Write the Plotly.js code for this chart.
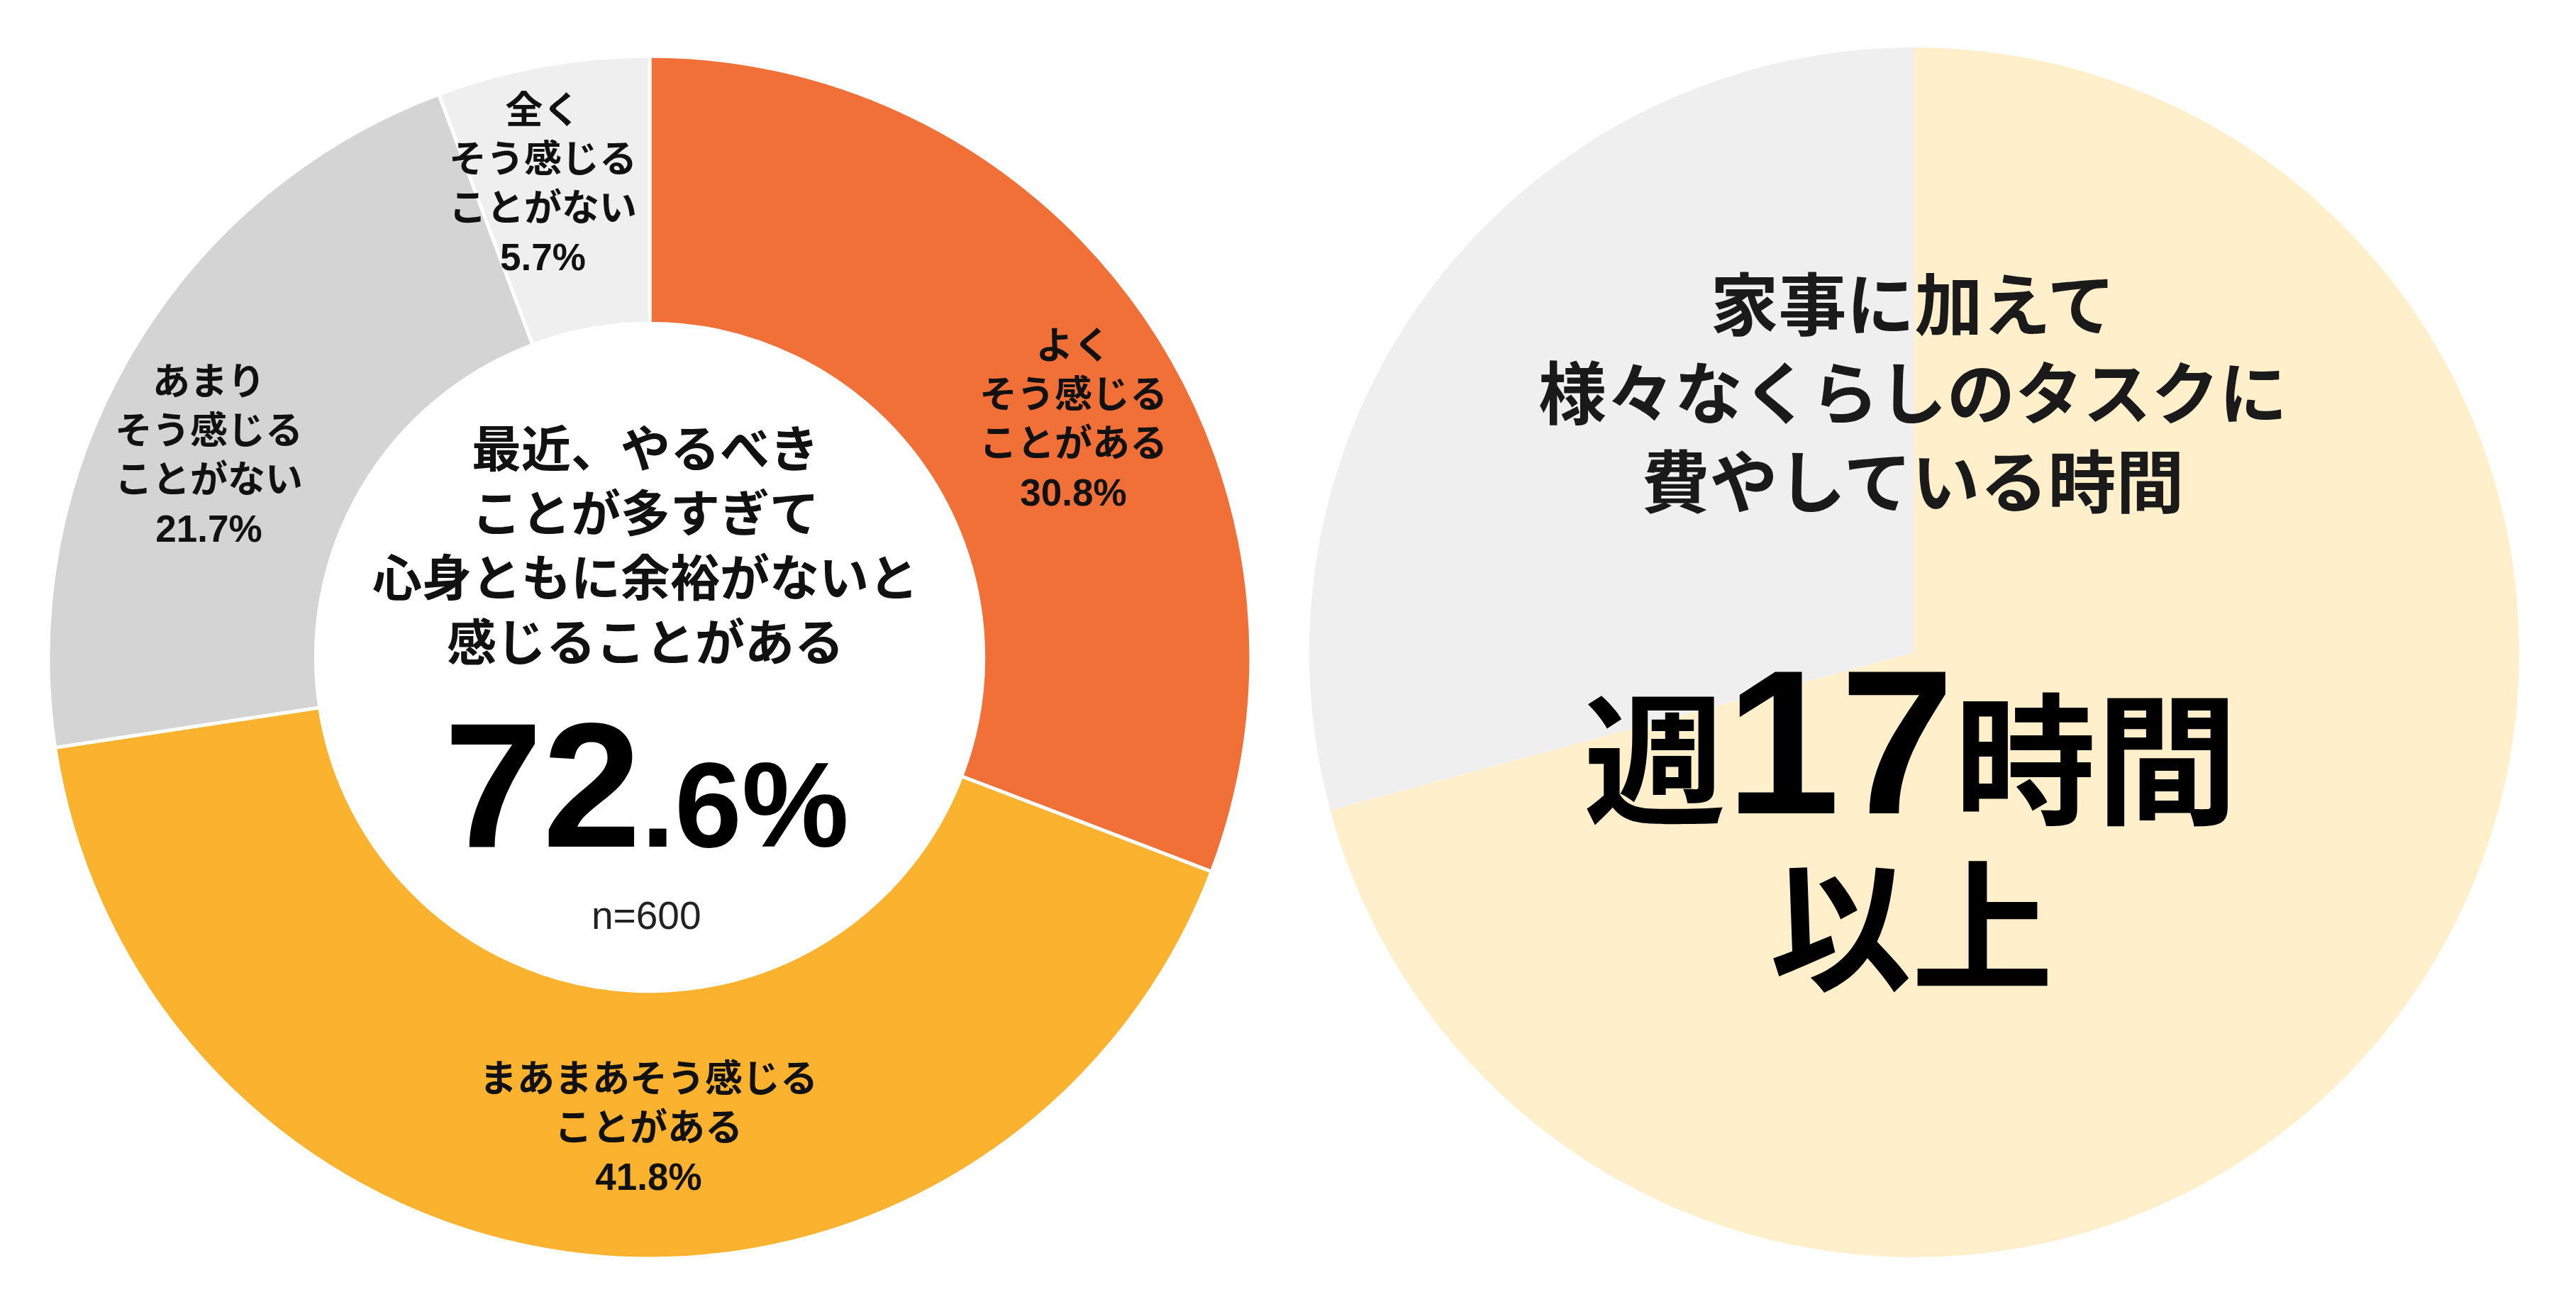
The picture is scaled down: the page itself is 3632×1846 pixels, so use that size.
<!DOCTYPE html>
<html>
<head>
<meta charset="utf-8">
<script src="https://cdn.plot.ly/plotly-3.0.1.min.js"></script>
<style>
  html, body { margin: 0; padding: 0; background: #fff; }
  #chart { width: 3632px; height: 1846px; }
</style>
</head>
<body>
<div id="chart"></div>
<script>
// left donut: 最近、やるべきことが多すぎて心身ともに余裕がないと感じることがある (n=600)
const answerLabels = [
  'よく<br>そう感じる<br>ことがある',
  'まあまあそう感じる<br>ことがある',
  'あまり<br>そう感じる<br>ことがない',
  '全く<br>そう感じる<br>ことがない'
];
const answerValues = [30.8, 41.8, 21.7, 5.7];
const sampleSize = 600;

// right pie: 家事に加えて様々なくらしのタスクに費やしている時間
const timeLabels = ['週17時間以上', 'それ未満'];
const timeValues = [70.8, 29.2];

const W = 3632, H = 1846;
const px = x => x / W;
const py = y => 1 - y / H;

const JP = 'Liberation Sans, Arial, Noto Sans CJK JP, sans-serif';
const answerColors = ['#F07038', '#FBB32F', '#D4D4D4', '#EFEFEF'];
const timeColors = ['#FFEFCB', '#EFEFEF'];
// label centres (px) for each answer slice
const labelPos = [[1513, 591], [914, 1590], [294, 642], [765, 259]];

const donut = {
  type: 'pie',
  labels: answerLabels,
  values: answerValues,
  sort: false,
  direction: 'clockwise',
  rotation: 0,
  hole: 0.555,
  textinfo: 'none',
  hoverinfo: 'skip',
  marker: { colors: answerColors, line: { color: '#ffffff', width: 5 } },
  domain: { x: [px(916 - 848), px(916 + 848)], y: [py(927 + 848), py(927 - 848)] }
};

const pie = {
  type: 'pie',
  labels: timeLabels,
  values: timeValues,
  sort: false,
  direction: 'clockwise',
  rotation: 0,
  textinfo: 'none',
  hoverinfo: 'skip',
  marker: { colors: timeColors, line: { width: 0 } },
  domain: { x: [px(2699 - 853), px(2699 + 853)], y: [py(920 + 853), py(920 - 853)] }
};

const annotations = answerLabels.map((lab, i) => ({
  text: '<b>' + lab + '<br>' + answerValues[i].toFixed(1) + '%</b>',
  x: px(labelPos[i][0]), y: py(labelPos[i][1]),
  xref: 'paper', yref: 'paper', xanchor: 'center', yanchor: 'middle',
  showarrow: false, align: 'center',
  font: { family: JP, size: 53, color: '#111111' }
}));

const total = (answerValues[0] + answerValues[1]).toFixed(1).split('.');

annotations.push(
  {
    text: '<b>最近、やるべき<br>ことが多すぎて<br>心身ともに余裕がないと<br>感じることがある</b>',
    x: px(910), y: py(771), xref: 'paper', yref: 'paper',
    xanchor: 'center', yanchor: 'middle', showarrow: false, align: 'center',
    font: { family: JP, size: 70, color: '#111111' }
  },
  {
    text: '<b>' + total[0] + '<span style="font-size:170px">.' + total[1] + '%</span></b>',
    x: px(911), y: py(1107), xref: 'paper', yref: 'paper',
    xanchor: 'center', yanchor: 'middle', showarrow: false,
    font: { family: 'Liberation Sans, Arial, sans-serif', size: 250, color: '#000000' }
  },
  {
    text: 'n=' + sampleSize,
    x: px(911), y: py(1291), xref: 'paper', yref: 'paper',
    xanchor: 'center', yanchor: 'middle', showarrow: false,
    font: { family: 'Liberation Sans, Arial, sans-serif', size: 55, color: '#222222' }
  },
  {
    text: '<b>家事に加えて<br>様々なくらしのタスクに<br>費やしている時間</b>',
    x: px(2697), y: py(556), xref: 'paper', yref: 'paper',
    xanchor: 'center', yanchor: 'middle', showarrow: false, align: 'center',
    font: { family: JP, size: 96, color: '#1a1a1a' }
  },
  {
    text: '<b>週<span style="font-size:290px">17</span>時間</b>',
    x: px(2694), y: py(1046), xref: 'paper', yref: 'paper',
    xanchor: 'center', yanchor: 'middle', showarrow: false,
    font: { family: JP, size: 200, color: '#000000' }
  },
  {
    text: '<b>以上</b>',
    x: px(2695), y: py(1312), xref: 'paper', yref: 'paper',
    xanchor: 'center', yanchor: 'middle', showarrow: false,
    font: { family: JP, size: 200, color: '#000000' }
  }
);

const layout = {
  width: W,
  height: H,
  margin: { l: 0, r: 0, t: 0, b: 0, pad: 0 },
  paper_bgcolor: '#ffffff',
  showlegend: false,
  annotations: annotations
};

Plotly.newPlot('chart', [donut, pie], layout, { displayModeBar: false, staticPlot: true });
</script>
</body>
</html>
